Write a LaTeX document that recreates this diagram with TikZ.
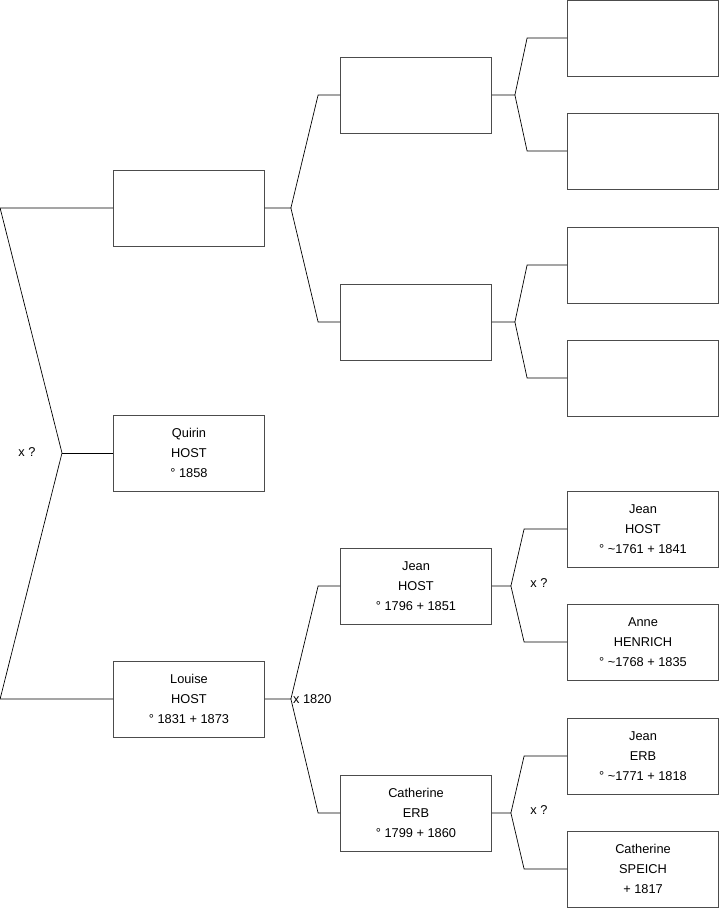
\documentclass[tikz,border=0pt]{standalone}
\usepackage{fontspec}
\setmainfont{Liberation Sans}
\usetikzlibrary{positioning}

\begin{document}
\begin{tikzpicture}[x=1pt,y=-1pt,b/.style={draw=black!70,line width=0.8pt,minimum width=151pt,minimum height=76pt,inner sep=0pt,align=center,font=\fontsize{12.8}{20}\selectfont},l/.style={line width=0.7pt},t/.style={font=\fontsize{12.8}{14}\selectfont,inner sep=0pt}]
\useasboundingbox (0,0) rectangle (719,908);
% generation 1
\node[b] (a) at (189,208) {};
\node[b] (q) at (189,453) {Quirin\\HOST\\° 1858};
\node[b] (lo) at (189,699) {Louise\\HOST\\° 1831 + 1873};
% generation 2
\node[b] (a1) at (416,95) {};
\node[b] (a2) at (416,322) {};
\node[b] (jh) at (416,586) {Jean\\HOST\\° 1796 + 1851};
\node[b] (ce) at (416,813) {Catherine\\ERB\\° 1799 + 1860};
% generation 3
\node[b] (a11) at (643,38) {};
\node[b] (a12) at (643,151) {};
\node[b] (a21) at (643,265) {};
\node[b] (a22) at (643,378) {};
\node[b] (jh1) at (643,529) {Jean\\HOST\\° \textasciitilde1761 + 1841};
\node[b] (jh2) at (643,642) {Anne\\HENRICH\\° \textasciitilde1768 + 1835};
\node[b] (ce1) at (643,756) {Jean\\ERB\\° \textasciitilde1771 + 1818};
\node[b] (ce2) at (643,869) {Catherine\\SPEICH\\+ 1817};
% root fork
\coordinate (fr) at (62,453);
\draw[l] (a.west) -- ++(-113,0) -- (fr) -- ([xshift=-113pt]lo.west) -- (lo.west);
\draw[l] (fr) -- (q.west);
\node[t] (mr) at (27,452) {x ?};
% forks to generation 2
\draw[l] (a.east) -- ++(26,0) coordinate (fa) -- ([xshift=-22pt]a1.west) -- (a1.west);
\draw[l] (fa) -- ([xshift=-22pt]a2.west) -- (a2.west);
\draw[l] (lo.east) -- ++(26,0) coordinate (flo) -- ([xshift=-22pt]jh.west) -- (jh.west);
\draw[l] (flo) -- ([xshift=-22pt]ce.west) -- (ce.west);
\node[t,anchor=west] (mlo) at ([xshift=2pt]flo) {x 1820};
% forks to generation 3
\draw[l] (a1.east) -- ++(23,0) coordinate (fa1) -- ([xshift=-40pt]a11.west) -- (a11.west);
\draw[l] (fa1) -- ([xshift=-40pt]a12.west) -- (a12.west);
\draw[l] (a2.east) -- ++(23,0) coordinate (fa2) -- ([xshift=-40pt]a21.west) -- (a21.west);
\draw[l] (fa2) -- ([xshift=-40pt]a22.west) -- (a22.west);
\draw[l] (jh.east) -- ++(19,0) coordinate (fjh) -- ([xshift=-43pt]jh1.west) -- (jh1.west);
\draw[l] (fjh) -- ([xshift=-43pt]jh2.west) -- (jh2.west);
\draw[l] (ce.east) -- ++(19,0) coordinate (fce) -- ([xshift=-43pt]ce1.west) -- (ce1.west);
\draw[l] (fce) -- ([xshift=-43pt]ce2.west) -- (ce2.west);
\node[t] (mjh) at (539,583) {x ?};
\node[t] (mce) at (539,810) {x ?};
\end{tikzpicture}
\end{document}
